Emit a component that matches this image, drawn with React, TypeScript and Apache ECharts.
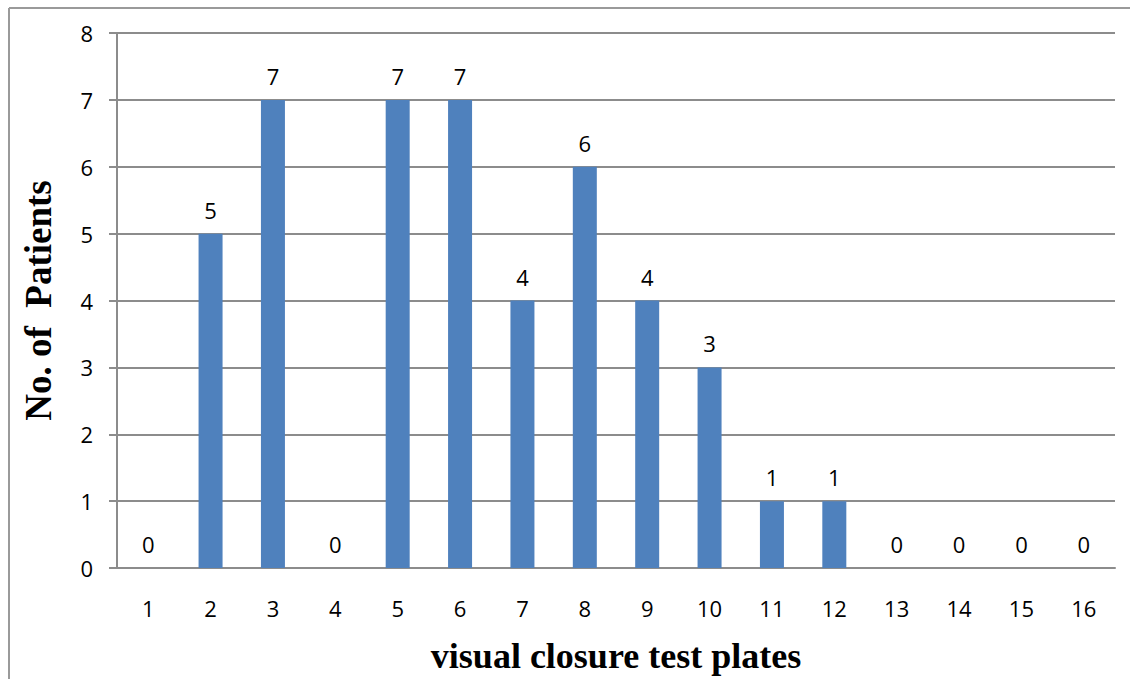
import React, { useEffect, useRef } from "react";
import * as echarts from "echarts";

const categories = ["1", "2", "3", "4", "5", "6", "7", "8", "9", "10", "11", "12", "13", "14", "15", "16"];
const patients = [0, 5, 7, 0, 7, 7, 4, 6, 4, 3, 1, 1, 0, 0, 0, 0];
const yTicks = [0, 1, 2, 3, 4, 5, 6, 7, 8];
const xTitle = "visual closure test plates";
const yTitle = "No. of  Patients";

export default function App() {
  const ref = useRef<HTMLDivElement>(null);
  useEffect(() => {
    document.body.style.margin = "0";
    const chart = echarts.init(ref.current!, null, { renderer: "svg" });
    chart.setOption({
      animation: false,
      backgroundColor: "#ffffff",
      grid: { left: 117, top: 33, right: 15, bottom: 91, containLabel: false },
      xAxis: {
        type: "category",
        data: categories,
        axisLine: { show: true, lineStyle: { color: "#8c8c8c", width: 2 } },
        axisTick: { show: false },
        axisLabel: { color: "#000", fontSize: 22, fontFamily: "Open Sans, Carlito, sans-serif", margin: 29 },
        name: xTitle,
        nameLocation: "middle",
        nameGap: 70,
        nameTextStyle: { color: "#000", fontSize: 36, fontWeight: "bold", fontFamily: "Liberation Serif, Times New Roman, serif" },
      },
      yAxis: {
        type: "value",
        min: yTicks[0],
        max: yTicks[yTicks.length - 1],
        interval: 1,
        axisLine: { show: true, lineStyle: { color: "#8c8c8c", width: 2 } },
        axisTick: { show: true, length: 8, lineStyle: { color: "#8c8c8c", width: 2 } },
        splitLine: { show: true, lineStyle: { color: "#8c8c8c", width: 2 } },
        axisLabel: { color: "#000", fontSize: 22, fontFamily: "Open Sans, Carlito, sans-serif", margin: 24 },
        name: yTitle,
        nameLocation: "middle",
        nameGap: 60,
        nameRotate: 90,
        nameTextStyle: { color: "#000", fontSize: 37, fontWeight: "bold", fontFamily: "Liberation Serif, Times New Roman, serif" },
      },
      series: [
        {
          type: "bar",
          data: patients,
          barWidth: 24,
          itemStyle: { color: "#4F81BD" },
          label: {
            show: true,
            position: "top",
            distance: 13,
            color: "#000",
            fontSize: 22,
            fontFamily: "Open Sans, Carlito, sans-serif",
          },
        },
      ],
      graphic: [
        { type: "line", shape: { x1: 9, y1: 8, x2: 1130, y2: 8 }, style: { stroke: "#9a9a9a", lineWidth: 2 } },
        { type: "line", shape: { x1: 9, y1: 8, x2: 9, y2: 679 }, style: { stroke: "#9a9a9a", lineWidth: 2 } },
      ],
    });
    return () => chart.dispose();
  }, []);
  return <div ref={ref} style={{ position: "absolute", left: 0, top: 0, width: 1130, height: 679 }} />;
}
